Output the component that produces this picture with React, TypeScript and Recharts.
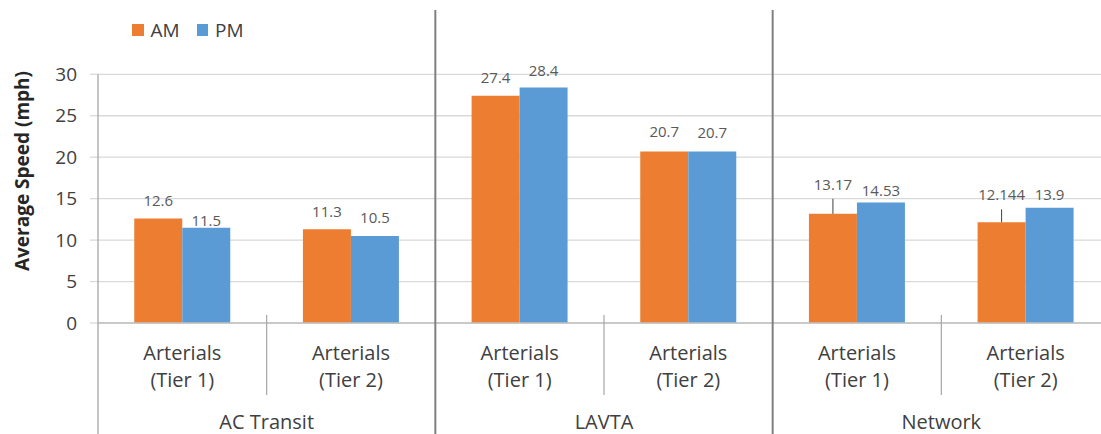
import React from "react";
import { BarChart, Bar, XAxis, YAxis, CartesianGrid, LabelList, Label } from "recharts";

const groups = ["AC Transit", "LAVTA", "Network"];
const roadType = "Arterials";
const tiers = ["(Tier 1)", "(Tier 2)"];
const seriesNames = ["AM", "PM"];
const amSpeeds = [12.6, 11.3, 27.4, 20.7, 13.17, 12.144];
const pmSpeeds = [11.5, 10.5, 28.4, 20.7, 14.53, 13.9];
const yTicks = [0, 5, 10, 15, 20, 25, 30];

// px each value label sits above its bar (the original labels were nudged by hand)
const amLabelLift = [17.5, 17.5, 17.5, 19, 29, 27];
const pmLabelLift = [7, 17.5, 17, 18, 12, 13];

const COLORS = ["#ED7D31", "#5B9BD5"];
const FONT = "'Open Sans', sans-serif";

const CHART_W = 1110;
const CHART_H = 434;
const TOP = 74.3;
const Y_AXIS_W = 98;
const X_AXIS_H = 111;
const AXIS_Y = CHART_H - X_AXIS_H;

const data = amSpeeds.map((am, i) => ({
  key: `${groups[Math.floor(i / 2)]} ${tiers[i % 2]}`,
  group: groups[Math.floor(i / 2)],
  tier: tiers[i % 2],
  am,
  pm: pmSpeeds[i],
}));

const BAND = (CHART_W - Y_AXIS_W) / data.length;

// two-level category axis: tier labels, agency labels and the divider lines
const CategoryTick = (props: any) => {
  const { x, index } = props;
  const row = data[index];
  const txt = { textAnchor: "middle" as const, fontSize: 20, fill: "#404040", fontFamily: FONT };
  const right = x + BAND / 2;
  const groupEnd = index % 2 === 1;
  return (
    <g>
      {index === 0 && (
        <line x1={x - BAND / 2} x2={x - BAND / 2} y1={TOP} y2={CHART_H} stroke="#a6a6a6" strokeWidth={1.3} />
      )}
      {groupEnd ? (
        <line x1={right} x2={right} y1={10} y2={CHART_H} stroke="#808080" strokeWidth={2} />
      ) : (
        <line x1={right} x2={right} y1={AXIS_Y - 8} y2={AXIS_Y + 72} stroke="#a6a6a6" strokeWidth={1.2} />
      )}
      <text x={x} y={AXIS_Y + 37} {...txt}>{roadType}</text>
      <text x={x} y={AXIS_Y + 64} {...txt}>{row.tier}</text>
      {!groupEnd && (
        <text x={right} y={AXIS_Y + 106} {...txt}>{row.group}</text>
      )}
    </g>
  );
};

const makeValueLabel = (lifts: number[]) => (props: any) => {
  const { x, y, width, value, index } = props;
  const cx = Number(x) + Number(width) / 2;
  const top = Number(y);
  const lift = lifts[index];
  return (
    <g>
      {lift > 22 && (
        <line x1={cx} x2={cx} y1={top} y2={top - lift + 14} stroke="#404040" strokeWidth={1} />
      )}
      <text x={cx} y={top - lift + 5} textAnchor="middle" fontSize={15} fill="#595959" fontFamily={FONT}>
        {value}
      </text>
    </g>
  );
};

const Legend = () => (
  <div
    style={{
      position: "absolute",
      left: 132,
      top: 17,
      display: "flex",
      alignItems: "center",
      fontFamily: FONT,
      fontSize: 19,
      color: "#404040",
    }}
  >
    {seriesNames.map((name, i) => (
      <div key={name} style={{ display: "flex", alignItems: "center", marginRight: 17 }}>
        <span style={{ width: 11.5, height: 11.5, background: COLORS[i], marginRight: 7, display: "inline-block" }} />
        <span>{name}</span>
      </div>
    ))}
  </div>
);

export default function App() {
  return (
    <div
      style={{
        position: "fixed",
        left: 0,
        top: 0,
        width: 1101,
        height: 434,
        overflow: "hidden",
        background: "#fff",
      }}
    >
      <Legend />
      <BarChart
        width={CHART_W}
        height={CHART_H}
        data={data}
        margin={{ top: TOP, right: 0, bottom: 0, left: 0 }}
        barCategoryGap="21.5%"
        barGap={0}
      >
        <CartesianGrid vertical={false} stroke="#d9d9d9" strokeWidth={1.3} />
        <XAxis
          dataKey="key"
          height={X_AXIS_H}
          interval={0}
          tickLine={false}
          axisLine={{ stroke: "#c0c0c0", strokeWidth: 1.5 }}
          tick={<CategoryTick />}
        />
        <YAxis
          width={Y_AXIS_W}
          domain={[0, 30]}
          ticks={yTicks}
          interval={0}
          axisLine={false}
          tickSize={8}
          tickLine={{ stroke: "#d9d9d9", strokeWidth: 1.3 }}
          tickMargin={13}
          tick={{ fontSize: 19, fill: "#404040", fontFamily: FONT }}
        >
          <Label
            content={() => (
              <text
                transform="translate(22,171) rotate(-90)"
                textAnchor="middle"
                dy={7}
                fontSize={19}
                fontWeight="bold"
                fill="#262626"
                fontFamily={FONT}
              >
                Average Speed (mph)
              </text>
            )}
          />
        </YAxis>
        <Bar dataKey="am" name={seriesNames[0]} fill={COLORS[0]} isAnimationActive={false}>
          <LabelList dataKey="am" content={makeValueLabel(amLabelLift)} />
        </Bar>
        <Bar dataKey="pm" name={seriesNames[1]} fill={COLORS[1]} isAnimationActive={false}>
          <LabelList dataKey="pm" content={makeValueLabel(pmLabelLift)} />
        </Bar>
      </BarChart>
    </div>
  );
}
